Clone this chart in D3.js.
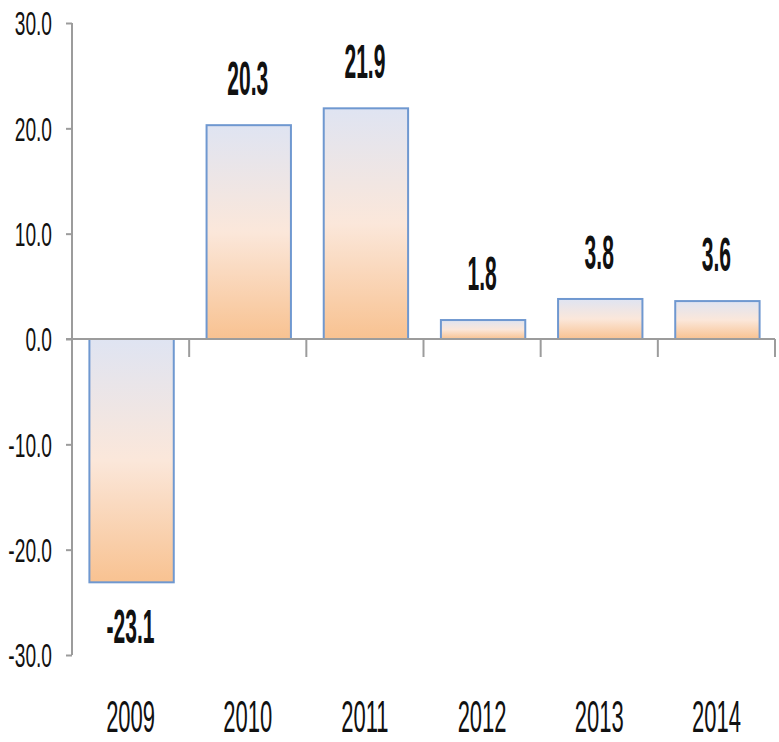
<!DOCTYPE html>
<html>
<head>
<meta charset="utf-8">
<script src="https://cdn.jsdelivr.net/npm/d3@7"></script>
<style>
  body { margin: 0; background: #fff; }
  svg { display: block; }
</style>
</head>
<body>
<div id="chart-area"></div>
<script>
// chart data
var years = ['2009', '2010', '2011', '2012', '2013', '2014'];
var growth = [-23.1, 20.3, 21.9, 1.8, 3.8, 3.6];
var yTicks = [30, 20, 10, 0, -10, -20, -30];

var W = 779, H = 742;
var margin = { left: 72, right: 4, top: 23, bottom: 87 };

// plain hyphen for negatives, like the original
var fmt = d3.formatLocale({ decimal: '.', thousands: ',', grouping: [3], currency: ['', ''], minus: '-' }).format('.1f');

var svg = d3.select('#chart-area')
    .append('svg')
        .attr('width', W)
        .attr('height', H);

var data = years.map((y, i) => ({ year: y, value: growth[i] }));

let x = d3.scaleBand()
    .domain(years)
    .range([margin.left, W - margin.right])
    .padding(0);

let y = d3.scaleLinear()
    .domain([-30, 30])
    .range([H - margin.bottom, margin.top]);

// bar gradient (blue-grey top -> peach -> orange bottom)
var defs = svg.append('defs');
var grad = defs.append('linearGradient')
    .attr('id', 'barGrad')
    .attr('x1', 0).attr('y1', 0).attr('x2', 0).attr('y2', 1);
grad.append('stop').attr('offset', '0%').attr('stop-color', '#dfe4f2');
grad.append('stop').attr('offset', '50%').attr('stop-color', '#fbe7da');
grad.append('stop').attr('offset', '100%').attr('stop-color', '#f8c291');

var axisColor = '#9c9c9c';

// y axis
let yAxis = d3.axisLeft(y)
    .tickValues(yTicks)
    .tickSize(6)
    .tickPadding(14)
    .tickFormat(fmt);

let gy = svg.append('g')
    .attr('class', 'y-axis')
    .attr('transform', 'translate(' + margin.left + ',0)')
    .call(yAxis);

gy.select('.domain').attr('stroke', axisColor).attr('stroke-width', 2)
    .attr('d', 'M0,' + y(30) + 'V' + y(-30));
gy.selectAll('.tick line').attr('stroke', axisColor).attr('stroke-width', 2);
gy.selectAll('.tick text')
    .attr('font-family', 'Liberation Sans, Arial, sans-serif')
    .attr('font-size', 33)
    .attr('fill', '#111')
    .attr('dy', '0.36em')
    .attr('x', null)
    .attr('transform', 'translate(-20,0) scale(0.58,1)')
    .attr('text-anchor', 'end');

// bars
let bw = x.bandwidth() * 0.72;
let inset = (x.bandwidth() - bw) / 2 + 1;

svg.selectAll('rect.bar')
    .data(data)
    .enter()
    .append('rect')
    .attr('class', 'bar')
    .attr('x', d => x(d.year) + inset)
    .attr('width', bw)
    .attr('y', d => y(Math.max(0, d.value)))
    .attr('height', d => Math.abs(y(d.value) - y(0)))
    .attr('fill', 'url(#barGrad)')
    .attr('stroke', '#6f98d0')
    .attr('stroke-width', 2);

// x axis at zero line
let xAxis = d3.axisBottom(x)
    .tickSize(0)
    .tickFormat('');

let gx = svg.append('g')
    .attr('class', 'x-axis')
    .attr('transform', 'translate(0,' + y(0) + ')')
    .call(xAxis);

gx.select('.domain').attr('stroke', axisColor).attr('stroke-width', 2)
    .attr('d', 'M' + (margin.left - 6) + ',0H' + (W - margin.right));

// category separators
var edges = years.map(d => x(d)).concat([x(years[years.length - 1]) + x.step()]);
gx.selectAll('line.sep')
    .data(edges.slice(1))
    .enter()
    .append('line')
    .attr('class', 'sep')
    .attr('x1', d => d).attr('x2', d => d)
    .attr('y1', 0).attr('y2', 18)
    .attr('stroke', axisColor)
    .attr('stroke-width', 2);

// year labels at the bottom
svg.selectAll('text.year')
    .data(data)
    .enter()
    .append('text')
    .attr('class', 'year')
    .attr('transform', d => 'translate(' + (x(d.year) + x.bandwidth() / 2) + ',' + 732 + ') scale(0.5,1)')
    .attr('text-anchor', 'middle')
    .attr('font-family', 'Liberation Sans, Arial, sans-serif')
    .attr('font-size', 44)
    .attr('fill', '#111')
    .text(d => d.year);

// value labels
svg.selectAll('text.val')
    .data(data)
    .enter()
    .append('text')
    .attr('class', 'val')
    .attr('transform', d => {
        let ly = d.value >= 0 ? y(d.value) - 30 : y(d.value) + 61;
        return 'translate(' + (x(d.year) + x.bandwidth() / 2) + ',' + ly + ') scale(0.43,1)';
    })
    .attr('text-anchor', 'middle')
    .attr('font-family', 'Liberation Sans, Arial, sans-serif')
    .attr('font-weight', 'bold')
    .attr('font-size', 49)
    .attr('fill', '#111')
    .text(d => fmt(d.value));
</script>
</body>
</html>
